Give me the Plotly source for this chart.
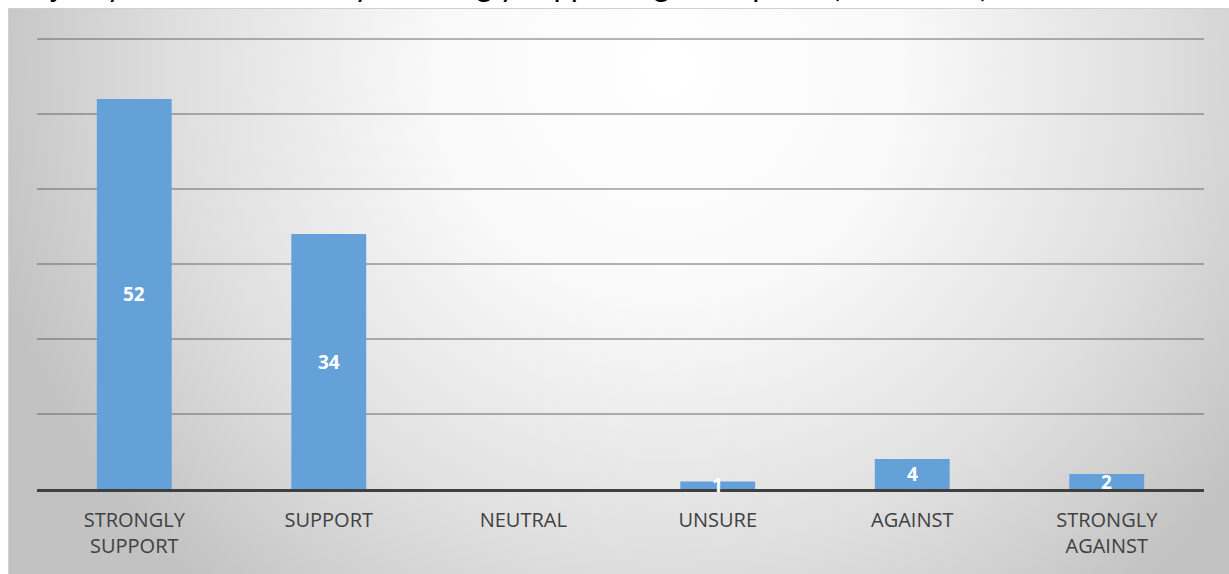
import base64
import plotly.graph_objects as go

# data
categories = ["STRONGLY<br>SUPPORT", "SUPPORT", "NEUTRAL", "UNSURE", "AGAINST", "STRONGLY<br>AGAINST"]
votes = [52, 34, 0, 1, 4, 2]
y_ticks = [0, 10, 20, 30, 40, 50, 60]
title_text = "Majority of the community is strongly supporting this option (% of votes)"

W, H = 1229, 574
ml, mr, mt, mb = 37, 25, 36, 85
pw, ph = W - ml - mr, H - mt - mb
box_x, box_y = 8, 8  # chart frame starts a bit in, title cropped above it

# grey radial background like the office chart style
bw, bh = W - box_x, H - box_y
bg_svg = (
    f"<svg xmlns='http://www.w3.org/2000/svg' width='{bw}' height='{bh}' preserveAspectRatio='none'>"
    "<defs><radialGradient id='g' gradientUnits='userSpaceOnUse' cx='660' cy='60' r='700'>"
    "<stop offset='0' stop-color='#ffffff'/>"
    "<stop offset='0.33' stop-color='#f9f9f9'/>"
    "<stop offset='0.7' stop-color='#dfdfdf'/>"
    "<stop offset='0.85' stop-color='#d1d1d1'/>"
    "<stop offset='1' stop-color='#c2c2c2'/>"
    "</radialGradient></defs>"
    f"<rect x='0' y='0' width='{bw}' height='{bh}' fill='url(#g)'/>"
    f"<rect x='0.5' y='0.5' width='{bw}' height='{bh}' fill='none' stroke='#d0d0d0'/>"
    "</svg>"
)
bg_uri = "data:image/svg+xml;base64," + base64.b64encode(bg_svg.encode()).decode()

fig = go.Figure()
fig.add_trace(go.Bar(
    x=categories,
    y=votes,
    marker=dict(color="#64a1d9", line=dict(width=0)),
    hoverinfo="x+y",
))

# value labels in the middle of each bar
for c, v in zip(categories, votes):
    if v > 0:
        fig.add_annotation(
            x=c, y=v / 2, text=f"<b>{v}</b>", showarrow=False,
            font=dict(family="Open Sans", size=19, color="white"),
        )

# title is mostly cut off at the top, like the cropped original
fig.add_annotation(
    xref="paper", yref="paper",
    x=(990 - ml) / pw, y=1 + (mt - 6) / ph,
    xanchor="right", yanchor="bottom",
    text=title_text, showarrow=False,
    font=dict(family="Lato", size=31, color="#000000"),
)

fig.add_layout_image(
    source=bg_uri, xref="paper", yref="paper",
    x=(box_x - ml) / pw, y=1 + (mt - box_y) / ph,
    sizex=bw / pw, sizey=bh / ph,
    sizing="stretch", xanchor="left", yanchor="top", layer="below",
)

fig.update_layout(
    width=W, height=H,
    margin=dict(l=ml, r=mr, t=mt, b=mb),
    paper_bgcolor="white",
    plot_bgcolor="rgba(0,0,0,0)",
    bargap=0.615,
    showlegend=False,
    font=dict(family="Open Sans", size=20, color="#404040"),
)
fig.update_xaxes(
    showline=True, linecolor="#3f3f3f", linewidth=3,
    ticks="", tickfont=dict(size=20, color="#404040"),
    ticklabelstandoff=11,
    showgrid=False,
)
fig.update_yaxes(
    range=[0, 60.4], tickvals=y_ticks, showticklabels=False,
    showgrid=True, gridcolor="rgba(90,90,90,0.45)", gridwidth=2,
    zeroline=False, showline=False,
)

# drop the default page margin so the figure fills the window
fig.write_html(
    "out.html",
    config={"displayModeBar": False},
    post_script="document.body.style.margin='0';document.body.style.overflow='hidden';",
)
